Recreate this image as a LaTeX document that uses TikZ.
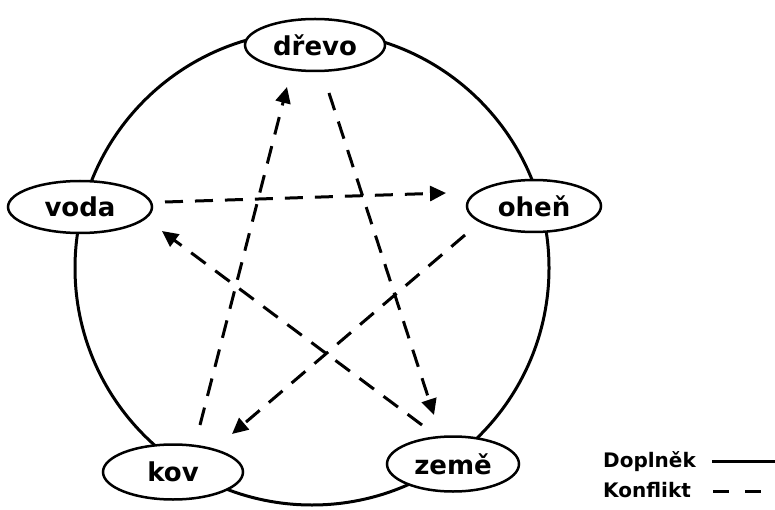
\documentclass[tikz,border=0pt]{standalone}
\usepackage{fontspec}
\setmainfont{DejaVu Sans}
\usetikzlibrary{shapes.geometric,arrows.meta}
\begin{document}
\begin{tikzpicture}[x=1pt,y=-1pt,
  element/.style={ellipse,draw,line width=2.5pt,fill=white,
    minimum width=140pt,minimum height=52pt,inner sep=0pt,
    font=\fontsize{26}{26}\selectfont\bfseries},
  conflict/.style={line width=3pt,dash pattern=on 18pt off 12pt,
    -{Triangle[length=16pt,width=15pt]}},
  legendtext/.style={anchor=base west,inner sep=0pt,
    font=\fontsize{20}{20}\selectfont\bfseries}]
\useasboundingbox (0,0) rectangle (775,510);

% ring of complements
\coordinate (c) at (312,268);
\draw[line width=3pt] (c) circle[radius=237pt];

% the five elements
\node[element] (drevo) at (315,45) {dřevo};
\node[element,minimum width=144pt] (voda) at (80,207) {voda};
\node[element,minimum width=134pt] (ohen) at (534,206) {oheň};
\node[element,minimum width=140pt,minimum height=55pt] (kov) at (173,472) {kov};
\node[element,minimum width=132pt,minimum height=55pt] (zeme) at (453,464) {země};

% conflict cycle
\draw[conflict] ([xshift=14pt,yshift=-48pt]drevo.center) -- ([xshift=-19pt,yshift=49pt]zeme.center);
\draw[conflict] ([xshift=27pt,yshift=47pt]kov.center) -- ([xshift=-28pt,yshift=-42pt]drevo.center);
\draw[conflict] ([xshift=85pt,yshift=5pt]voda.center) -- ([xshift=-88pt,yshift=13pt]ohen.center);
\draw[conflict] ([xshift=-69pt,yshift=-29pt]ohen.center) -- ([xshift=59pt,yshift=38pt]kov.center);
\draw[conflict] ([xshift=-31pt,yshift=39pt]zeme.center) -- ([xshift=82pt,yshift=-24pt]voda.center);

% legend
\node[legendtext] (dopl) at (603,467) {Doplněk};
\node[legendtext] (konf) at (603,497) {Konflikt};
\coordinate (s1) at (712,461);
\coordinate (s2) at (775,461);
\draw[line width=3pt] (s1) -- (s2);
\coordinate (k1) at (713,491);
\coordinate (k2) at (763,491);
\draw[line width=3pt,dash pattern=on 16pt off 16pt] (k1) -- (k2);
\end{tikzpicture}
\end{document}
